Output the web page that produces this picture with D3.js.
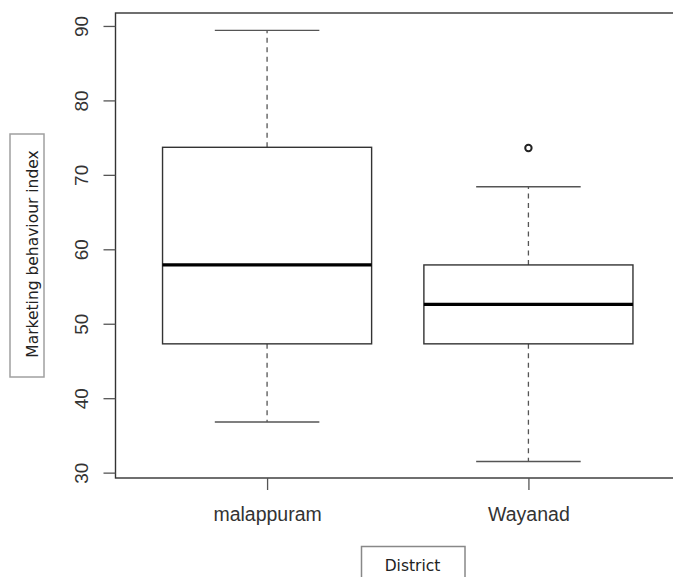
<!DOCTYPE html>
<html>
<head>
<meta charset="utf-8">
<script src="https://cdn.jsdelivr.net/npm/d3@7"></script>
<style>
  body { margin: 0; background: #fff; }
  svg { display: block; }
</style>
</head>
<body>
<script>
// values
const districts = ["malappuram", "Wayanad"];
const lowerWhisker = [36.8, 31.5];
const q1 = [47.3, 47.3];
const medians = [57.9, 52.6];
const q3 = [73.7, 57.9];
const upperWhisker = [89.4, 68.4];
const outliers = [[], [73.6]];
const yTicks = [30, 40, 50, 60, 70, 80, 90];

const width = 673;
const height = 577;

const svg = d3.select("body").append("svg")
  .attr("width", width)
  .attr("height", height);

// R style: groups at 1..n, xlim 0.5..n+0.5 plus 4% each side
const x = d3.scaleLinear().domain([0.42, 2.58]).range([115.5, 680]);
const y = d3.scaleLinear().domain([29.28, 91.74]).range([478, 13]);

const data = districts.map((d, i) => ({
  name: d,
  pos: i + 1,
  lo: lowerWhisker[i],
  q1: q1[i],
  med: medians[i],
  q3: q3[i],
  hi: upperWhisker[i],
  out: outliers[i]
}));

const boxW = 0.8;
const stapleW = 0.4;

const g = svg.selectAll(".box").data(data).enter().append("g").attr("class", "box");

// whiskers
g.append("line")
  .attr("x1", d => x(d.pos)).attr("x2", d => x(d.pos))
  .attr("y1", d => y(d.q3)).attr("y2", d => y(d.hi))
  .attr("stroke", "#555").attr("stroke-width", 1.3)
  .attr("stroke-dasharray", "5,4.5");
g.append("line")
  .attr("x1", d => x(d.pos)).attr("x2", d => x(d.pos))
  .attr("y1", d => y(d.q1)).attr("y2", d => y(d.lo))
  .attr("stroke", "#555").attr("stroke-width", 1.3)
  .attr("stroke-dasharray", "5,4.5");

// staples
["hi", "lo"].forEach(k => {
  g.append("line")
    .attr("x1", d => x(d.pos - stapleW / 2)).attr("x2", d => x(d.pos + stapleW / 2))
    .attr("y1", d => y(d[k])).attr("y2", d => y(d[k]))
    .attr("stroke", "#555").attr("stroke-width", 1.4);
});

// boxes
g.append("rect")
  .attr("x", d => x(d.pos - boxW / 2))
  .attr("width", d => x(d.pos + boxW / 2) - x(d.pos - boxW / 2))
  .attr("y", d => y(d.q3))
  .attr("height", d => y(d.q1) - y(d.q3))
  .attr("fill", "#fff").attr("stroke", "#333").attr("stroke-width", 1.4);

// medians
g.append("line")
  .attr("x1", d => x(d.pos - boxW / 2)).attr("x2", d => x(d.pos + boxW / 2))
  .attr("y1", d => y(d.med)).attr("y2", d => y(d.med))
  .attr("stroke", "#000").attr("stroke-width", 3.2);

// outliers
g.selectAll(".out").data(d => d.out.map(v => ({ pos: d.pos, v }))).enter()
  .append("circle")
  .attr("cx", d => x(d.pos)).attr("cy", d => y(d.v))
  .attr("r", 3.2)
  .attr("fill", "none").attr("stroke", "#222").attr("stroke-width", 2);

// plot frame
svg.append("rect")
  .attr("x", x.range()[0]).attr("y", y.range()[1])
  .attr("width", x.range()[1] - x.range()[0])
  .attr("height", y.range()[0] - y.range()[1])
  .attr("fill", "none").attr("stroke", "#333").attr("stroke-width", 1.4);

// y axis
const yAxis = svg.append("g")
  .attr("transform", "translate(" + x.range()[0] + ",0)")
  .call(d3.axisLeft(y).tickValues(yTicks).tickSize(12));
yAxis.select(".domain").remove();
yAxis.selectAll(".tick line").attr("stroke", "#555").attr("stroke-width", 1.3);
yAxis.selectAll(".tick text")
  .attr("x", null).attr("dy", null)
  .attr("transform", "translate(-28,0) rotate(-90)")
  .attr("text-anchor", "middle")
  .attr("fill", "#333")
  .style("font-family", "'Liberation Sans', Arial, sans-serif")
  .style("font-size", "19px");

// x axis
const xAxis = svg.append("g")
  .attr("transform", "translate(0," + y.range()[0] + ")")
  .call(d3.axisBottom(x).tickValues([1, 2]).tickFormat(i => districts[i - 1]).tickSize(12));
xAxis.select(".domain").remove();
xAxis.selectAll(".tick line").attr("stroke", "#555").attr("stroke-width", 1.3);
xAxis.selectAll(".tick text")
  .attr("y", 43).attr("dy", null)
  .attr("fill", "#333")
  .style("font-family", "'Liberation Sans', Arial, sans-serif")
  .style("font-size", "19.5px");

// axis titles in boxes
svg.append("rect")
  .attr("x", 10).attr("y", 134).attr("width", 34).attr("height", 243)
  .attr("fill", "#fff").attr("stroke", "#a0a0a0").attr("stroke-width", 1.5);
svg.append("text")
  .attr("transform", "translate(37.5,254) rotate(-90)")
  .attr("text-anchor", "middle")
  .attr("fill", "#222")
  .style("font-family", "'DejaVu Sans', sans-serif")
  .style("font-size", "15.5px")
  .text("Marketing behaviour index");

svg.append("rect")
  .attr("x", 361.5).attr("y", 546.5).attr("width", 103.5).attr("height", 40)
  .attr("fill", "#fff").attr("stroke", "#888").attr("stroke-width", 1.5);
svg.append("text")
  .attr("x", 412.5).attr("y", 571)
  .attr("text-anchor", "middle")
  .attr("fill", "#222")
  .style("font-family", "'DejaVu Sans', sans-serif")
  .style("font-size", "15.5px")
  .text("District");
</script>
</body>
</html>
